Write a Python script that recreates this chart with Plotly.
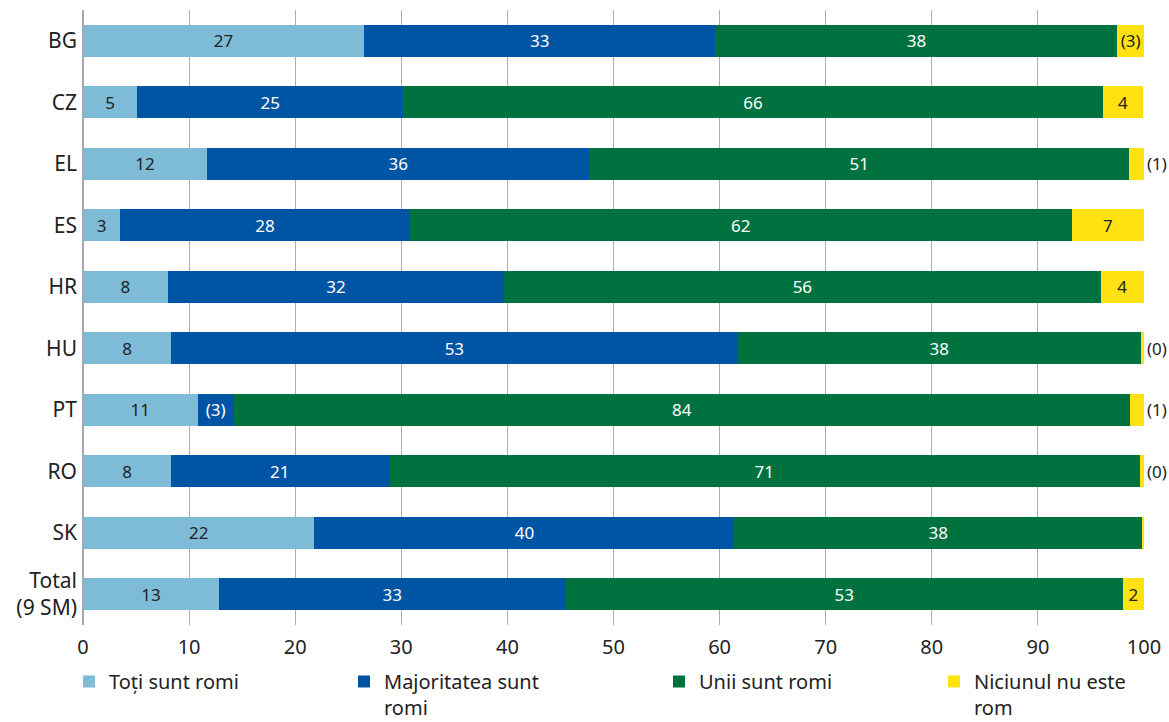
import plotly.graph_objects as go

categories = ["BG", "CZ", "EL", "ES", "HR", "HU", "PT", "RO", "SK", "Total<br>(9 SM)"]

series_names = ["Toți sunt romi", "Majoritatea sunt<br>romi", "Unii sunt romi", "Niciunul nu este<br>rom"]

toti = [26.5, 5.1, 11.7, 3.5, 8.0, 8.3, 10.8, 8.3, 21.8, 12.8]
majoritatea = [33.1, 25.1, 36.0, 27.3, 31.7, 53.4, 3.4, 20.5, 39.6, 32.7]
unii = [37.9, 65.9, 50.9, 62.4, 56.2, 38.0, 84.5, 70.8, 38.4, 52.5]
niciunul = [2.5, 3.85, 1.4, 6.8, 4.1, 0.3, 1.3, 0.4, 0.2, 2.0]

toti_lbl = ["27", "5", "12", "3", "8", "8", "11", "8", "22", "13"]
maj_lbl = ["33", "25", "36", "28", "32", "53", "(3)", "21", "40", "33"]
unii_lbl = ["38", "66", "51", "62", "56", "38", "84", "71", "38", "53"]
nic_lbl = ["(3)", "4", "(1)", "7", "4", "(0)", "(1)", "(0)", "(0)", "2"]
nic_pos = ["inside", "inside", "outside", "inside", "inside",
           "outside", "outside", "outside", "outside", "inside"]

x_ticks = [0, 10, 20, 30, 40, 50, 60, 70, 80, 90, 100]

colors = ["#7dbbd6", "#0054a4", "#00723f", "#ffe20f"]
text_colors = ["#222222", "#ffffff", "#ffffff", "#222222"]

FONT = "Noto Sans"

fig = go.Figure()
data = [toti, majoritatea, unii, niciunul]
labels = [toti_lbl, maj_lbl, unii_lbl, nic_lbl]
positions = ["inside", "inside", "inside", nic_pos]
legend_ids = ["legend", "legend2", "legend3", "legend4"]

for i in range(4):
    fig.add_trace(go.Bar(
        y=categories, x=data[i], orientation="h", name=series_names[i],
        marker=dict(color=colors[i], line=dict(width=0)),
        text=labels[i], textposition=positions[i], insidetextanchor="middle",
        insidetextfont=dict(family=FONT, size=17, color=text_colors[i]),
        outsidetextfont=dict(family=FONT, size=17, color="#222222"),
        constraintext="none", cliponaxis=False,
        legend=legend_ids[i], showlegend=True,
    ))

L, R, T, B = 83, 25, 10, 97
W, H = 1169, 722
pw = W - L - R
ph = H - T - B

def px_to_paper_x(px):
    return (px - L) / pw

legend_px = [69, 344, 659, 934]
leg_y = (ph - (662 - T)) / ph

layout_legends = {}
for i, lid in enumerate(legend_ids):
    layout_legends[lid] = dict(
        x=px_to_paper_x(legend_px[i]), y=leg_y, xanchor="left", yanchor="top",
        orientation="h", valign="top", bgcolor="rgba(0,0,0,0)", borderwidth=0,
        font=dict(family=FONT, size=20, color="#222222"),
    )

fig.update_layout(
    width=W, height=H,
    margin=dict(l=L, r=R, t=T, b=B, autoexpand=False),
    barmode="stack", bargap=0.485,
    plot_bgcolor="white", paper_bgcolor="white",
    font=dict(family=FONT, size=20, color="#222222"),
    xaxis=dict(range=[0, 100], tickvals=x_ticks, showgrid=True,
               gridcolor="#b0b0b0", gridwidth=1, zeroline=True,
               zerolinecolor="#a8a8a8", zerolinewidth=2, showline=False,
               ticks="", ticklabelstandoff=8,
               tickfont=dict(family=FONT, size=20, color="#222222"),
               fixedrange=True),
    yaxis=dict(type="category", categoryorder="array", categoryarray=categories,
               autorange="reversed", showgrid=False, zeroline=False, ticks="",
               ticklabelstandoff=5,
               tickfont=dict(family=FONT, size=21, color="#222222"),
               fixedrange=True),
    **layout_legends,
)

fig.write_html("out.html", config={"displayModeBar": False},
               post_script="document.body.style.margin='0';")
